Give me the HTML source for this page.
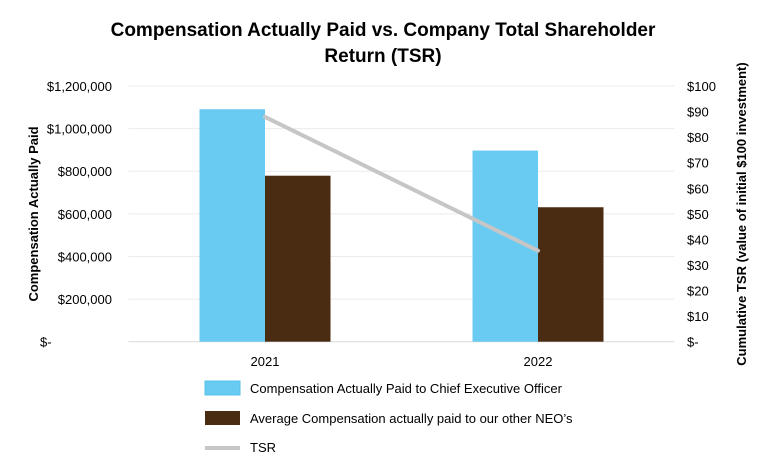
<!DOCTYPE html>
<html><head><meta charset="utf-8"><style>
body{margin:0;background:#fff;font-family:"Liberation Sans",sans-serif;}
svg text{font-family:"Liberation Sans",sans-serif;fill:#000;}
</style></head><body>
<svg width="766" height="465" viewBox="0 0 766 465" id="c">
<text x="383" y="36" text-anchor="middle" font-size="19" font-weight="bold">Compensation Actually Paid vs. Company Total Shareholder</text>
<text x="383" y="62" text-anchor="middle" font-size="19" font-weight="bold">Return (TSR)</text>
<text transform="translate(38,214) rotate(-90)" text-anchor="middle" font-size="13" font-weight="bold">Compensation Actually Paid</text>
<text transform="translate(746,214) rotate(-90)" text-anchor="middle" font-size="13" font-weight="bold">Cumulative TSR (value of initial $100 investment)</text>
<g id="grid"></g><g id="bars"></g><g id="line"></g><g id="axes"></g>
<g>
<rect x="205" y="381" width="35" height="14" fill="#69CBF2" stroke="#55c0ee"/>
<text x="250" y="393" font-size="13">Compensation Actually Paid to Chief Executive Officer</text>
<rect x="205" y="411" width="35" height="14" fill="#4A2C12"/>
<text x="250" y="423" font-size="13">Average Compensation actually paid to our other NEO’s</text>
<line x1="205" y1="448" x2="240" y2="448" stroke="#c6c6c6" stroke-width="4"/>
<text x="250" y="452" font-size="13">TSR</text>
</g>
</svg>
<script>
const categories=["2021","2022"];
const ceoValues=[1091000,897000];
const neoValues=[779000,631000];
const tsrValues=[87.9,35.6];
const leftTicks=["$-","$200,000","$400,000","$600,000","$800,000","$1,000,000","$1,200,000"];
const rightTicks=["$-","$10","$20","$30","$40","$50","$60","$70","$80","$90","$100"];
const NS="http://www.w3.org/2000/svg";
const X0=128.5,X1=674.5,Y0=341.7,Y1=86;
const band=(X1-X0)/categories.length;
const yL=v=>Y0-(v/1200000)*(Y0-Y1);
const yR=v=>Y0-(v/100)*(Y0-Y1);
const cx=i=>X0+band*(i+0.5);
function mk(tag,attrs,parent,txt){const e=document.createElementNS(NS,tag);for(const k in attrs)e.setAttribute(k,attrs[k]);if(txt!==undefined)e.textContent=txt;document.getElementById(parent).appendChild(e);return e;}
leftTicks.forEach((t,i)=>{const y=yL(i*200000);
 const g=mk("line",{x1:X0,x2:X1,y1:y,y2:y,stroke:i===0?"#d9d9d9":"#ebebeb","stroke-width":1},"grid");
 
 
 const l=mk("text",{x:t==="$-"?40:112,y:y+5,"font-size":13,"text-anchor":t==="$-"?"start":"end"},"axes",t);
 
 
});
rightTicks.forEach((t,i)=>{const y=yR(i*10);
 const l=mk("text",{x:687,y:y+5,"font-size":13},"axes",t);
 
 
});
categories.forEach((c,i)=>{const bw=65.5;
 const b1=mk("rect",{x:cx(i)-bw,y:yL(ceoValues[i]),width:bw,height:Y0-yL(ceoValues[i]),fill:"#69CBF2"},"bars");
 
 
 const b2=mk("rect",{x:cx(i),y:yL(neoValues[i]),width:bw,height:Y0-yL(neoValues[i]),fill:"#4A2C12"},"bars");
 
 
 const l=mk("text",{x:cx(i),y:366,"font-size":13,"text-anchor":"middle"},"axes",c);
 
 
});
const pts=tsrValues.map((v,i)=>cx(i)+","+yR(v)).join(" ");
const pl=mk("polyline",{points:pts,fill:"none",stroke:"#c6c6c6","stroke-width":4,"stroke-linecap":"round"},"line");


</script>
</body></html>
